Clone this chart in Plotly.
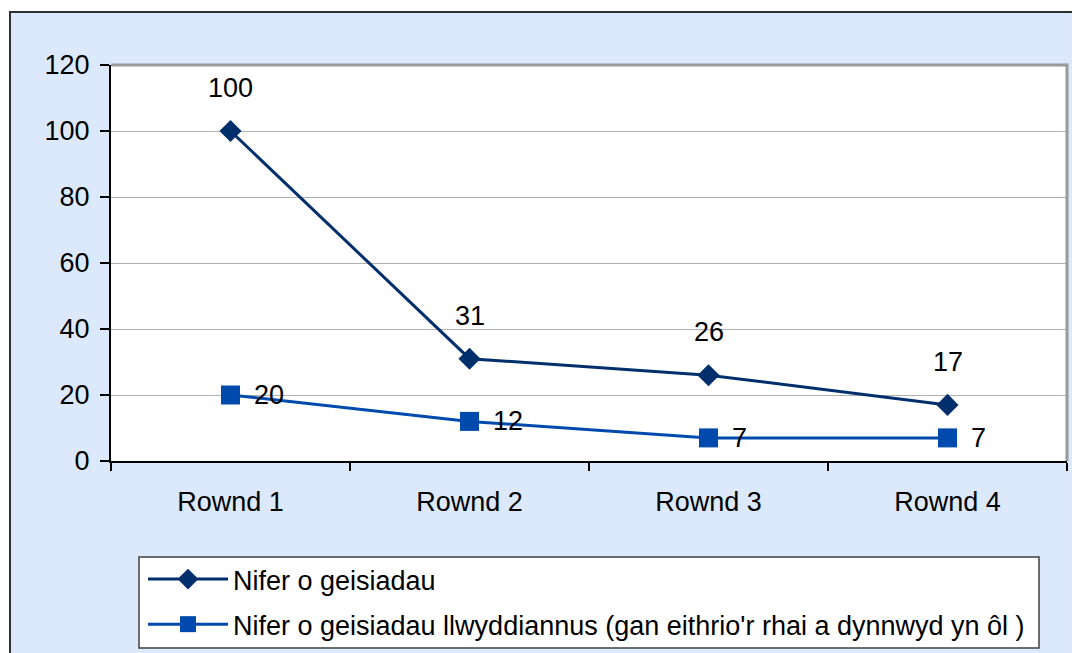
import plotly.graph_objects as go

categories = ["Rownd 1", "Rownd 2", "Rownd 3", "Rownd 4"]
applications = [100, 31, 26, 17]
successful = [20, 12, 7, 7]
series_names = [
    "Nifer o geisiadau",
    "Nifer o geisiadau llwyddiannus (gan eithrio'r rhai a dynnwyd yn ôl )",
]
y_ticks = [0, 20, 40, 60, 80, 100, 120]

OFF = 8  # page body margin
W, H = 1080 - OFF, 653 - OFF
L, R, T, B = 111 - OFF, 1067 - OFF, 65 - OFF, 461 - OFF


def px(x):
    # x given in screenshot pixels
    return (x - OFF - L) / (R - L)


def py(y):
    return (B - (y - OFF)) / (B - T)


C1 = "#002f6c"
C2 = "#004aad"
BG = "#dce9fc"
FONT = "Liberation Sans, Arial, sans-serif"
FS = 27

fig = go.Figure()
fig.add_trace(go.Scatter(
    x=categories, y=applications, mode="lines+markers", name=series_names[0],
    legendgroup="a",
    line=dict(color=C1, width=3),
    marker=dict(symbol="diamond", size=17, color=C1),
))
fig.add_trace(go.Scatter(
    x=categories, y=successful, mode="lines+markers", name=series_names[1],
    legendgroup="b",
    line=dict(color=C2, width=3),
    marker=dict(symbol="square", size=19, color=C2),
))

annotations = []
for c, v in zip(categories, applications):
    annotations.append(dict(x=c, y=v, xref="x", yref="y", text=str(v), showarrow=False,
                            yshift=43, font=dict(size=FS, color="black", family=FONT)))
for c, v in zip(categories, successful):
    annotations.append(dict(x=c, y=v, xref="x", yref="y", text=str(v), showarrow=False,
                            xanchor="left", xshift=21, font=dict(size=FS, color="black", family=FONT)))

shapes = [
    # outer chart area
    dict(type="rect", xref="paper", yref="paper", layer="below",
         x0=px(10), x1=px(1100), y0=py(680), y1=py(12),
         fillcolor=BG, line=dict(color="#303030", width=2)),
    # plot area background
    dict(type="rect", xref="paper", yref="paper", layer="below",
         x0=0, x1=1, y0=0, y1=1, fillcolor="white", line=dict(width=0)),
    # legend box
    dict(type="rect", xref="paper", yref="paper", layer="below",
         x0=px(139), x1=px(1039), y0=py(648), y1=py(557),
         fillcolor="white", line=dict(color="#404040", width=1.5)),
    # plot border top / right
    dict(type="line", xref="paper", yref="paper", layer="above",
         x0=0, x1=1, y0=1, y1=1, line=dict(color="#9a9a9a", width=3)),
    dict(type="line", xref="paper", yref="paper", layer="above",
         x0=1, x1=1, y0=0, y1=py(63.5), line=dict(color="#9a9a9a", width=3)),
]

fig.update_layout(
    width=W, height=H,
    margin=dict(l=L, r=W - R, t=T, b=H - B, autoexpand=False),
    paper_bgcolor="white", plot_bgcolor="white",
    font=dict(family=FONT, size=FS, color="black"),
    showlegend=True,
    legend=dict(x=px(143), y=py(555), xanchor="left", yanchor="top",
                bgcolor="rgba(0,0,0,0)", borderwidth=0,
                traceorder="grouped", tracegroupgap=7,
                font=dict(size=FS, family=FONT, color="black"),
                itemwidth=80),
    annotations=annotations,
    shapes=shapes,
    xaxis=dict(type="category", range=[-0.5, 3.5], tickson="boundaries",
               ticks="outside", ticklen=8, tickwidth=1.5, tickcolor="black",
               showline=True, linecolor="black", linewidth=2,
               showgrid=False, ticklabelstandoff=16,
               tickfont=dict(size=FS, family=FONT, color="black")),
    yaxis=dict(range=[0, 120], tickvals=y_ticks, ticks="outside", ticklen=9,
               tickwidth=1.5, tickcolor="black",
               showline=True, linecolor="black", linewidth=2,
               showgrid=True, gridcolor="#b0b0b0", gridwidth=1, zeroline=False,
               ticklabelstandoff=5,
               tickfont=dict(size=FS, family=FONT, color="black")),
)

fig.write_html("out.html")
